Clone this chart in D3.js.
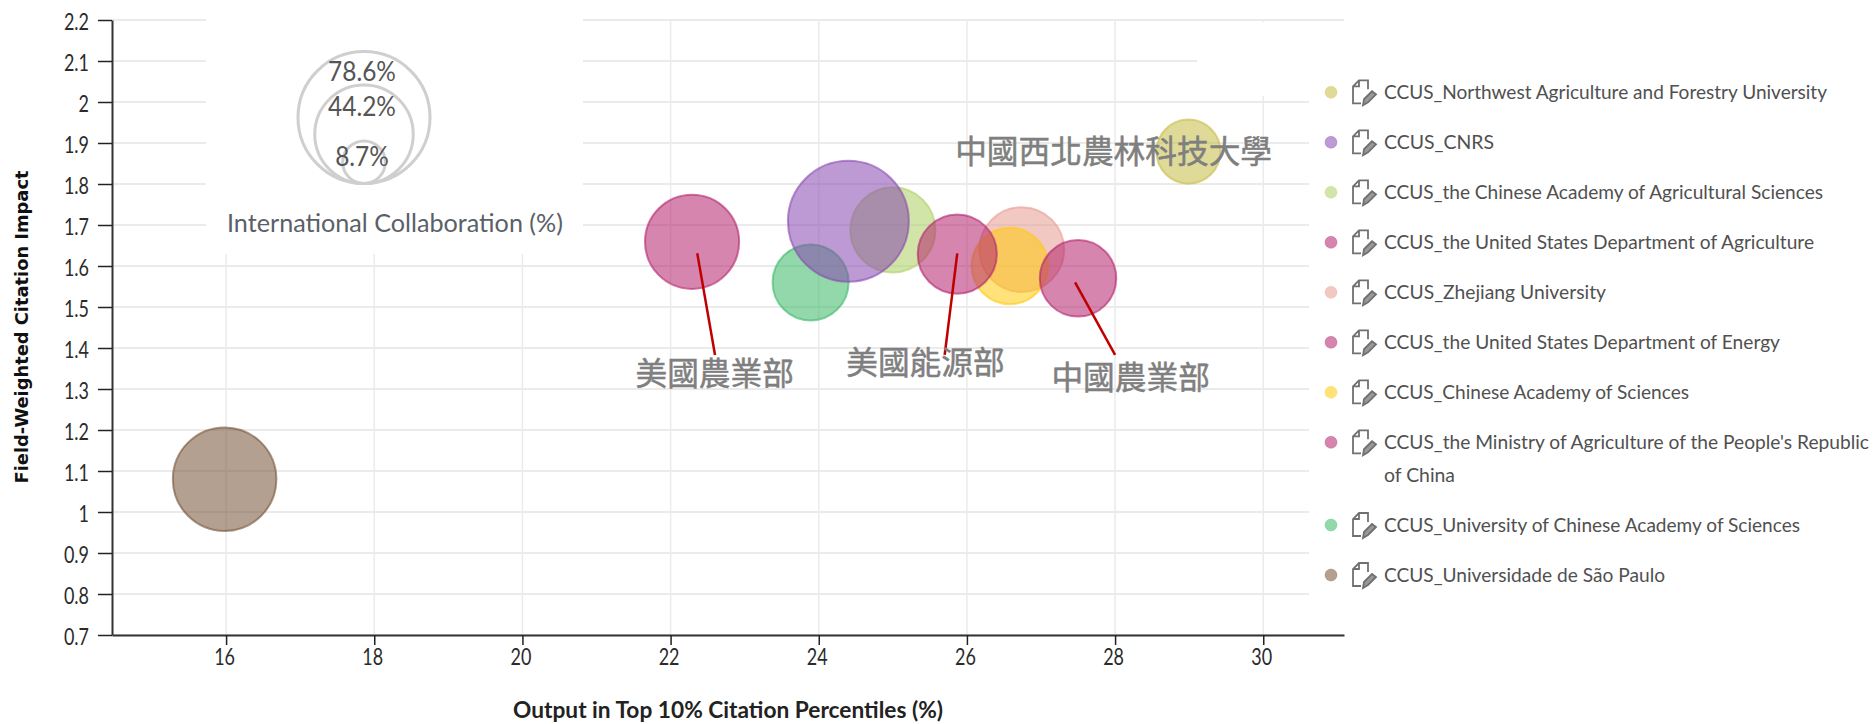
<!DOCTYPE html>
<html>
<head>
<meta charset="utf-8">
<script src="https://cdn.jsdelivr.net/npm/d3@7"></script>
<style>
html,body{margin:0;padding:0;background:#fff;}
svg{display:block;font-family:Lato,sans-serif;}
</style>
</head>
<body>
<svg id="chart" width="1873" height="724"></svg>
<script>
// values
var names = ['CCUS_Northwest Agriculture and Forestry University','CCUS_CNRS','CCUS_the Chinese Academy of Agricultural Sciences',
    'CCUS_the United States Department of Agriculture','CCUS_Zhejiang University','CCUS_the United States Department of Energy',
    'CCUS_Chinese Academy of Sciences',"CCUS_the Ministry of Agriculture of the People's Republic|of China",
    'CCUS_University of Chinese Academy of Sciences','CCUS_Universidade de São Paulo'];
var outputTop10 = [28.99,24.40,25.00,22.29,26.74,25.87,26.58,27.50,23.89,15.98];
var citationImpact = [1.879,1.709,1.688,1.659,1.640,1.629,1.600,1.570,1.560,1.080];
var collaboration = [18,64,31.7,38.8,31.5,27.4,25.5,25.6,25.3,46.9];
var colors = ['#c7bc44','#8747af','#add061','#b3216c','#e79b90','#b3216c','#ffca0d','#b3216c','#3bb866','#755235'];
var drawOrder = [9,8,2,1,4,6,5,3,7,0];
var xTicks = [16,18,20,22,24,26,28,30];
var yTicks = [0.7,0.8,0.9,1,1.1,1.2,1.3,1.4,1.5,1.6,1.7,1.8,1.9,2,2.1,2.2];
var sizeLegend = [78.6,44.2,8.7];

// annotation leaders in data units
var leaderFrom = [[22.36,1.631],[25.87,1.631],[27.46,1.560]];
var leaderTo = [[22.60,1.383],[25.70,1.383],[28.00,1.383]];
var noteText = ['美國農業部','美國能源部','中國農業部','中國西北農林科技大學'];
var noteX = [22.595,25.44,28.21,27.98];
var noteY = [1.344,1.37,1.335,1.886];

var svg = d3.select('#chart');
var x = d3.scaleLinear().domain([14.46,31.09]).range([112,1344]);
var y = d3.scaleLinear().domain([0.7,2.2]).range([635,20]);
var r = d3.scaleSqrt().domain([0,78.6]).range([0,67]);

function squeeze(sel, k){
    sel.each(function(){
        this.setAttribute('textLength', this.getComputedTextLength()*k);
        this.setAttribute('lengthAdjust', 'spacingAndGlyphs');
    });
}
function fit(sel, w){
    sel.attr('textLength',w).attr('lengthAdjust','spacingAndGlyphs');
}

//grid
var grid = svg.append('g');
grid.selectAll('.hg').data(yTicks).enter().append('line').attr('class','hg')
    .attr('x1',112).attr('x2',1344).attr('y1',d=>y(d)).attr('y2',d=>y(d))
    .attr('stroke','#ebebeb').attr('stroke-width',2);
grid.selectAll('.vg').data(xTicks).enter().append('line').attr('class','vg')
    .attr('x1',d=>x(d)).attr('x2',d=>x(d)).attr('y1',20).attr('y2',635)
    .attr('stroke','#ebebeb').attr('stroke-width',1.5);

//white boxes sitting over the grid
svg.append('rect').attr('x',206).attr('y',0).attr('width',377).attr('height',254).attr('fill','#fff');
svg.append('rect').attr('x',1197).attr('y',22).attr('width',147).attr('height',74).attr('fill','#fff');
svg.append('rect').attr('x',1309).attr('y',22).attr('width',36).attr('height',605).attr('fill','#fff');

//axes
var xAxis = svg.append('g').attr('transform','translate(0,635)')
    .call(d3.axisBottom(x).tickValues(xTicks).tickFormat(d=>d).tickSize(10).tickPadding(4).tickSizeOuter(0));
var yAxis = svg.append('g').attr('transform','translate(112,0)')
    .call(d3.axisLeft(y).tickValues(yTicks).tickFormat(d=>d).tickSize(14).tickPadding(9).tickSizeOuter(0));
[xAxis,yAxis].forEach(function(a){
    a.select('.domain').attr('stroke','#333').attr('stroke-width',2);
    a.selectAll('.tick line').attr('stroke','#222').attr('stroke-width',1.5);
    a.selectAll('.tick text').attr('fill','#2b2b2b').style('font-family','Lato').style('font-size','23px');
    squeeze(a.selectAll('.tick text'),0.78);
});
xAxis.selectAll('.tick text').attr('dx',-2);
yAxis.selectAll('.tick text').attr('dy','0.42em');

svg.append('text').attr('x',728).attr('y',718).attr('text-anchor','middle')
    .attr('fill','#222').style('font-size','22px').style('font-weight',700)
    .text('Output in Top 10% Citation Percentiles (%)').call(fit,430);
svg.append('text').attr('transform','translate(28,327) rotate(-90)').attr('text-anchor','middle')
    .attr('fill','#111').style('font-family','DejaVu Sans').style('font-size','18px').style('font-weight',700)
    .text('Field-Weighted Citation Impact').call(fit,313);

//bubbles
svg.append('g').selectAll('circle').data(drawOrder).enter().append('circle')
    .attr('cx',i=>x(outputTop10[i])).attr('cy',i=>y(citationImpact[i])).attr('r',i=>r(collaboration[i]))
    .attr('fill',i=>colors[i]).attr('fill-opacity',0.55)
    .attr('stroke',i=>colors[i]).attr('stroke-opacity',0.6).attr('stroke-width',2);

//annotations
svg.append('g').selectAll('line').data(leaderFrom).enter().append('line')
    .attr('x1',d=>x(d[0])).attr('y1',d=>y(d[1]))
    .attr('x2',(d,i)=>x(leaderTo[i][0])).attr('y2',(d,i)=>y(leaderTo[i][1]))
    .attr('stroke','#c00000').attr('stroke-width',2.5);
svg.append('g').selectAll('text').data(noteText).enter().append('text')
    .attr('x',(d,i)=>x(noteX[i])).attr('y',(d,i)=>y(noteY[i])).attr('text-anchor','middle')
    .attr('dominant-baseline','central')
    .attr('fill','#7f7f7f').attr('stroke','#7f7f7f').attr('stroke-width',0.5)
    .style('font-family','"Noto Sans CJK TC"').style('font-size','31.7px')
    .text(d=>d);

//size key
var key = svg.append('g').attr('transform','translate(364,184.5)');
key.selectAll('circle').data(sizeLegend).enter().append('circle')
    .attr('cy',d=>-r(d)).attr('r',d=>r(d)-1)
    .attr('fill','none').attr('stroke','#cfcfcf').attr('stroke-width',3);
var keyLabelY = [-114,-78.5,-28.5];
key.selectAll('text').data(sizeLegend).enter().append('text')
    .attr('x',-2).attr('y',(d,i)=>keyLabelY[i]).attr('text-anchor','middle').attr('dominant-baseline','central')
    .attr('fill','#555').style('font-size','26px').text(d=>d+'%').call(squeeze,0.94);
svg.append('text').attr('x',227).attr('y',232).attr('fill','#5a6068').style('font-size','25px')
    .text('International Collaboration (%)').call(fit,336);

//legend
var rowY = [92.3,142.3,192.3,242.3,292.3,342.3,392.3,442.3,525,575];
var labelWidths = [[443],[110],[439],[430],[222],[396],[305],[485,71],[416],[281]];
var row = svg.append('g').selectAll('g').data(names).enter().append('g')
    .attr('transform',(d,i)=>'translate(0,'+rowY[i]+')');
row.append('circle').attr('cx',1331).attr('r',6)
    .attr('fill',(d,i)=>colors[i]).attr('fill-opacity',0.55)
    .attr('stroke',(d,i)=>colors[i]).attr('stroke-opacity',0.3).attr('stroke-width',1);
var icon = row.append('g').attr('transform','translate(1352,0)')
    .attr('fill','none').attr('stroke','#707070').attr('stroke-width',1.8);
icon.append('path').attr('d','M16,-3 L16,-12 L7,-12 L1,-6 L1,11 L9,11 M7,-12 L7,-6 L1,-6');
icon.append('path').attr('d','M11,13 L12,7 L20,-1 L24,2 L16,10 Z').attr('fill','#999');
row.each(function(d,i){
    var lines = d.split('|');
    d3.select(this).selectAll('text').data(lines).enter().append('text')
        .attr('x',1384).attr('y',(l,j)=>j*33+6.5)
        .attr('fill','#505050').style('font-size','19.2px').text(l=>l)
        .attr('textLength',(l,j)=>labelWidths[i][j]).attr('lengthAdjust','spacingAndGlyphs');
});
</script>
</body>
</html>
